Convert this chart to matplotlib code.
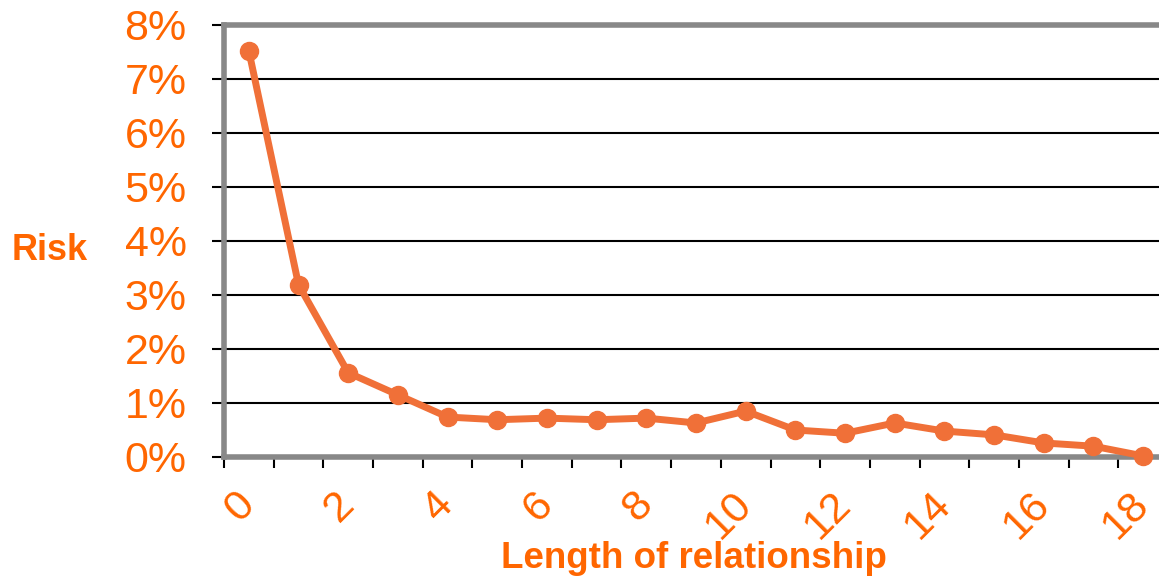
import matplotlib
matplotlib.use("Agg")
import matplotlib.pyplot as plt
import numpy as np

years = list(range(19))
risk = [7.52, 3.19, 1.56, 1.15, 0.74, 0.69, 0.72, 0.69, 0.72, 0.63, 0.85,
        0.50, 0.44, 0.63, 0.48, 0.41, 0.26, 0.20, 0.02]
y_ticks = [0, 1, 2, 3, 4, 5, 6, 7, 8]
x_labels = [str(v) for v in years if v % 2 == 0]

orange = "#FF6600"
line_col = "#F07038"
plt.rcParams['font.family'] = ['Liberation Sans', 'DejaVu Sans']

fig = plt.figure(figsize=(11.59, 5.78), dpi=100)
ax = fig.add_axes([224/1159, 1-457/578, 944/1159, 432/578])

xs = np.array(years) + 0.5
ax.set_xlim(0, len(years))
ax.set_ylim(0, 8)

for v in y_ticks[:-1]:
    ax.axhline(v, color='black', lw=1.5, zorder=1)

ax.plot(xs, risk, color=line_col, lw=5, marker='o', markersize=13,
        zorder=5, clip_on=False, solid_capstyle='round')

for s in ['left', 'bottom', 'top']:
    ax.spines[s].set_color('#888888')
    ax.spines[s].set_linewidth(4)
ax.spines['right'].set_visible(False)
ax.axvline(0, color='black', lw=1.5, zorder=2)

ax.set_yticks(y_ticks)
ax.set_yticklabels([f"{v}%" for v in y_ticks], color=orange, fontsize=31)
ax.tick_params(axis='y', length=9, width=1.5, color='black', pad=18)

ax.set_xticks(np.arange(0, len(years) + 1))
ax.set_xticklabels([])
ax.tick_params(axis='x', which='major', length=8, width=1.5, color='black')
ax.set_xticks([v + 0.5 for v in years if v % 2 == 0], minor=True)
ax.set_xticklabels(x_labels, minor=True, rotation=45, color=orange,
                   fontsize=31, ha='right', va='center',
                   rotation_mode='anchor')
ax.tick_params(axis='x', which='minor', length=0, pad=30)

fig.text(50/1159, 1-250/578, "Risk", color=orange, fontsize=26,
         fontweight='bold', ha='center', va='center')
fig.text(694/1159, 1-558/578, "Length of relationship", color=orange,
         fontsize=26.5, fontweight='bold', ha='center', va='center')

fig.savefig("out.png", dpi=100)
